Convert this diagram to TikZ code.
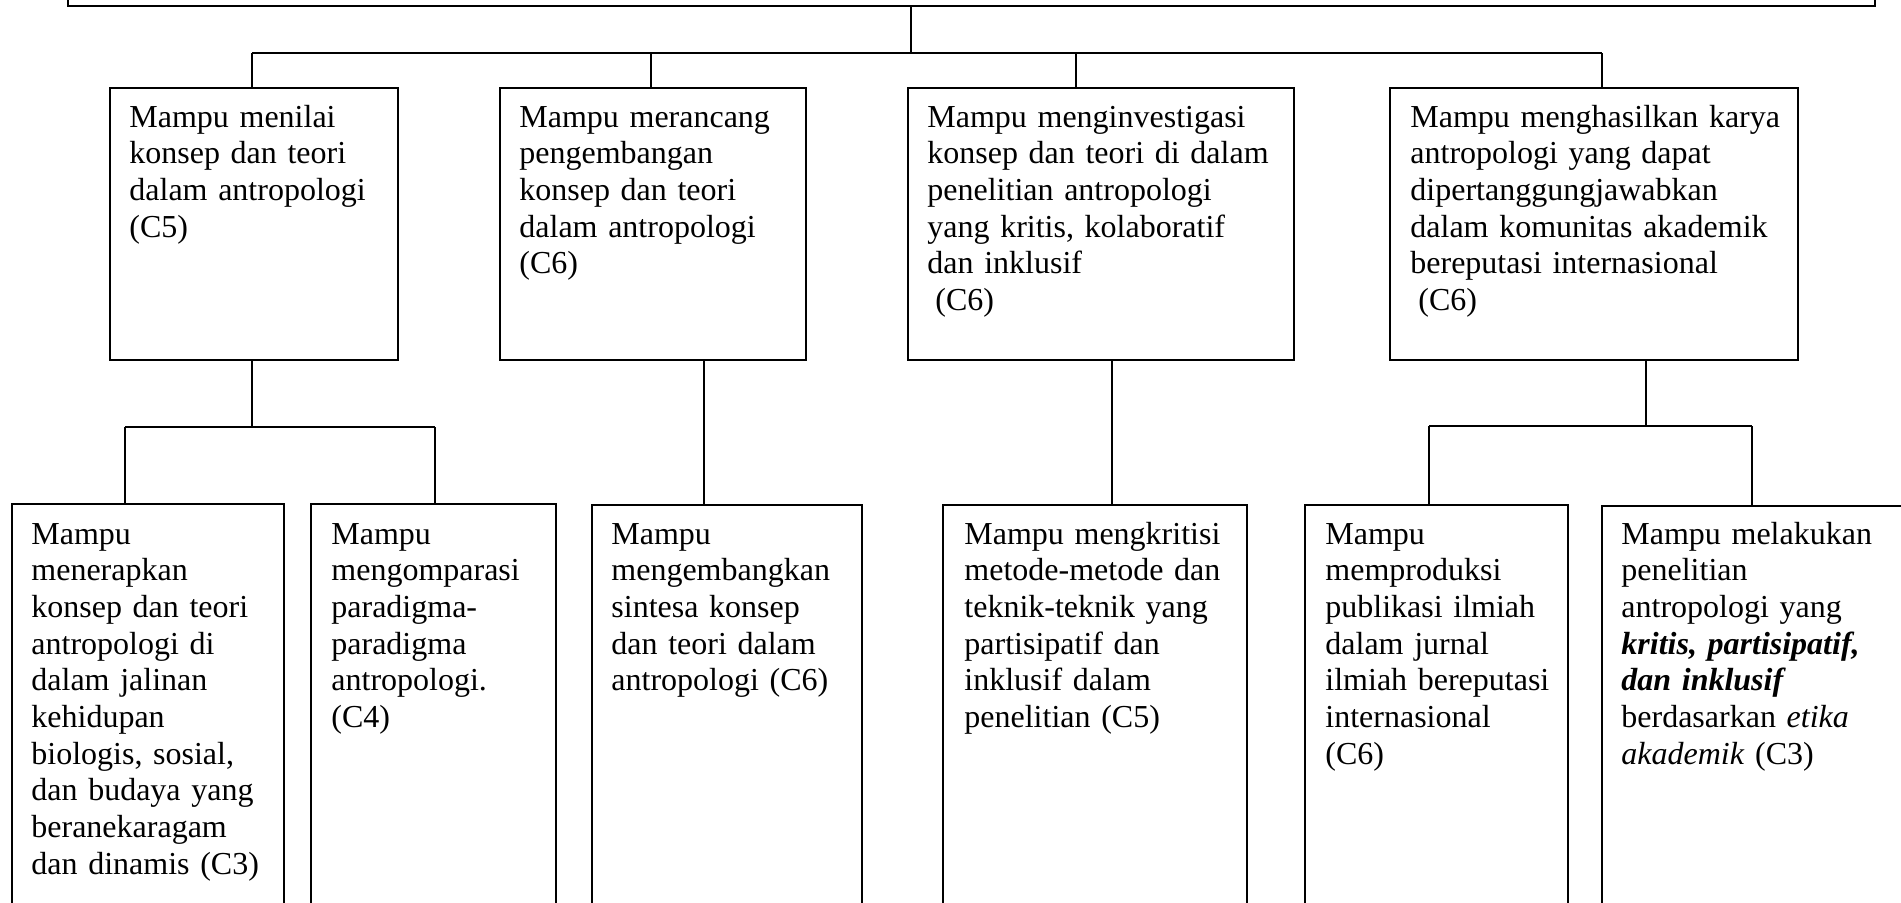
\documentclass[tikz,border=0pt]{standalone}
\usepackage{fontspec}
\setmainfont{Liberation Serif}
\usetikzlibrary{calc,fit}
\begin{document}
\begin{tikzpicture}[x=0.5pt,y=-0.5pt,
  box/.style={draw, line width=1pt, rectangle, inner sep=0pt},
  txt/.style={anchor=base west, inner sep=0pt, text width=200pt, align=left,
              font=\fontsize{16}{18.35}\selectfont},
  link/.style={line width=0.8pt}]
\useasboundingbox (0,0) rectangle (1901,902);

% frame of the overall outcome at the top
\node[box, fit={(68,-40) (1875,6)}] (top) {};

% second level
\node[box, fit={(110,88) (398,360)}] (b1) {};
\node[box, fit={(500,88) (806,360)}] (b2) {};
\node[box, fit={(908,88) (1294,360)}] (b3) {};
\node[box, fit={(1390,88) (1798,360)}] (b4) {};

% third level
\node[box, fit={(12,504) (284,940)}] (c1) {};
\node[box, fit={(311,504) (556,940)}] (c2) {};
\node[box, fit={(592,505) (862,940)}] (c3) {};
\node[box, fit={(943,505) (1247,940)}] (c4) {};
\node[box, fit={(1305,505) (1568,940)}] (c5) {};
\node[box, fit={(1602,506) (1930,940)}] (c6) {};

% texts
\node[txt] (tb1) at ($(b1.north west)+(20,40)$) {Mampu menilai\\konsep dan teori\\dalam antropologi\\(C5)};
\node[txt] (tb2) at ($(b2.north west)+(20,40)$) {Mampu merancang\\pengembangan\\konsep dan teori\\dalam antropologi\\(C6)};
\node[txt] (tb3) at ($(b3.north west)+(20,40)$) {Mampu menginvestigasi\\konsep dan teori di dalam\\penelitian antropologi\\yang kritis, kolaboratif\\dan inklusif\\\hspace*{0.25em}(C6)};
\node[txt] (tb4) at ($(b4.north west)+(21,40)$) {Mampu menghasilkan karya\\antropologi yang dapat\\dipertanggungjawabkan\\dalam komunitas akademik\\bereputasi internasional\\\hspace*{0.25em}(C6)};

\node[txt] (tc1) at ($(c1.north west)+(20,41)$) {Mampu\\menerapkan\\konsep dan teori\\antropologi di\\dalam jalinan\\kehidupan\\biologis, sosial,\\dan budaya yang\\beranekaragam\\dan dinamis (C3)};
\node[txt] (tc2) at ($(c2.north west)+(21,41)$) {Mampu\\mengomparasi\\paradigma-\\paradigma\\antropologi.\\(C4)};
\node[txt] (tc3) at ($(c3.north west)+(20,40)$) {Mampu\\mengembangkan\\sintesa konsep\\dan teori dalam\\antropologi (C6)};
\node[txt] (tc4) at ($(c4.north west)+(22,40)$) {Mampu mengkritisi\\metode-metode dan\\teknik-teknik yang\\partisipatif dan\\inklusif dalam\\penelitian (C5)};
\node[txt] (tc5) at ($(c5.north west)+(21,40)$) {Mampu\\memproduksi\\publikasi ilmiah\\dalam jurnal\\ilmiah bereputasi\\internasional\\(C6)};
\node[txt] (tc6) at ($(c6.north west)+(20,39)$) {Mampu melakukan\\penelitian\\antropologi yang\\\textbf{\textit{kritis, partisipatif,}}\\\textbf{\textit{dan inklusif}}\\berdasarkan \textit{etika}\\\textit{akademik} (C3)};

% junction points
\coordinate (j0) at (911,53);
\coordinate (k1) at (252,53);
\coordinate (k2) at (651,53);
\coordinate (k3) at (1076,53);
\coordinate (k4) at (1602,53);
\coordinate (m1) at (252,427);
\coordinate (n1) at (125,427);
\coordinate (n2) at (435,427);
\coordinate (p2) at (704,0);
\coordinate (p3) at (1112,0);
\coordinate (m4) at (1646,426);
\coordinate (n5) at (1429,426);
\coordinate (n6) at (1752,426);

% connectors, upper tier
\draw[link] (top.south -| j0) -- (j0);
\draw[link] (k1) -- (k4);
\draw[link] (k1) -- (k1 |- b1.north);
\draw[link] (k2) -- (k2 |- b2.north);
\draw[link] (k3) -- (k3 |- b3.north);
\draw[link] (k4) -- (k4 |- b4.north);

% connectors, lower tier
\draw[link] (m1 |- b1.south) -- (m1);
\draw[link] (n1) -- (n2);
\draw[link] (n1) -- (n1 |- c1.north);
\draw[link] (n2) -- (n2 |- c2.north);
\draw[link] (p2 |- b2.south) -- (p2 |- c3.north);
\draw[link] (p3 |- b3.south) -- (p3 |- c4.north);
\draw[link] (m4 |- b4.south) -- (m4);
\draw[link] (n5) -- (n6);
\draw[link] (n5) -- (n5 |- c5.north);
\draw[link] (n6) -- (n6 |- c6.north);
\end{tikzpicture}
\end{document}
